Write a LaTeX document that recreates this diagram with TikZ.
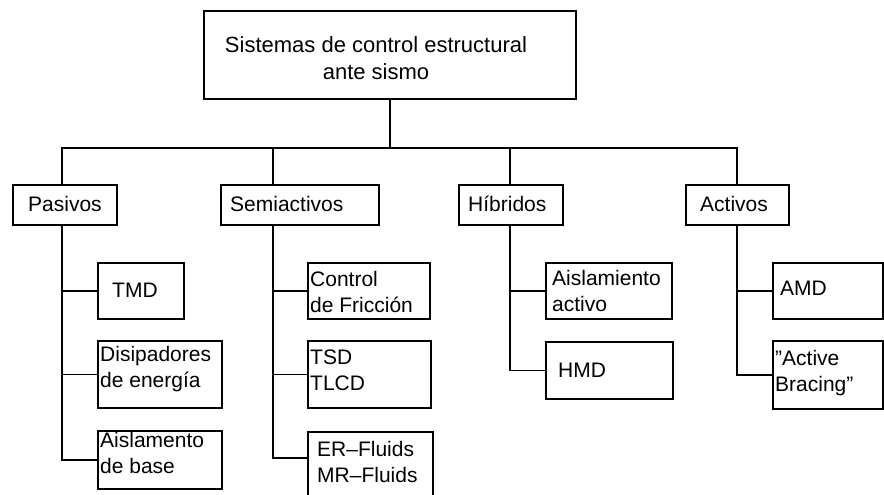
\documentclass[tikz,border=0pt]{standalone}
\usepackage{fontspec}
\setmainfont{Liberation Sans}
\usetikzlibrary{calc}
\tikzset{
  box/.style={draw, line width=1.6pt, inner sep=0pt, anchor=north west},
  lbl/.style={anchor=west, align=left, inner sep=0pt, font=\fontsize{21}{26}\selectfont},
  conn/.style={line width=1.6pt}
}
\begin{document}
\begin{tikzpicture}[x=1pt,y=-1pt]
\clip (0,0) rectangle (884,495);
% top
\node[box, minimum width=372pt, minimum height=88pt] (top) at (203,10) {};
\node[anchor=center, align=center, inner sep=0pt, font=\fontsize{22}{27}\selectfont] (toptxt) at (376,58) {Sistemas de control estructural\\ante sismo};
% level 1
\node[box, minimum width=104pt, minimum height=40pt] (pas) at (12,184) {};
\node[lbl] at (28,204) {Pasivos};
\node[box, minimum width=158pt, minimum height=40pt] (semi) at (220,184) {};
\node[lbl] at (230,204) {Semiactivos};
\node[box, minimum width=104pt, minimum height=40pt] (hib) at (458,184) {};
\node[lbl] at (468,204) {Híbridos};
\node[box, minimum width=103pt, minimum height=40pt] (act) at (685,184) {};
\node[lbl] at (700,204) {Activos};
% level 2 pasivos
\node[box, minimum width=86pt, minimum height=56pt] (tmd) at (97,262) {};
\node[lbl] at (112,290) {TMD};
\node[box, minimum width=124pt, minimum height=67pt] (dis) at (97,340) {};
\node[lbl] at (100,369) {Disipadores\\de energía};
\node[box, minimum width=124pt, minimum height=58pt] (ais) at (97,430) {};
\node[lbl] at (100,453) {Aislamento\\de base};
% semiactivos
\node[box, minimum width=122pt, minimum height=56pt] (cf) at (307,262) {};
\node[lbl] at (310,292) {Control\\de Fricción};
\node[box, minimum width=123pt, minimum height=67pt] (tsd) at (307,340) {};
\node[lbl] at (310,370) {TSD\\TLCD};
\node[box, minimum width=125pt, minimum height=90pt] (er) at (307,431) {};
\node[lbl] at (317,462) {ER--Fluids\\MR--Fluids};
% hibridos
\node[box, minimum width=126pt, minimum height=56pt] (aa) at (545,262) {};
\node[lbl] at (552,291) {Aislamiento\\activo};
\node[box, minimum width=127pt, minimum height=57pt] (hmd) at (545,341) {};
\node[lbl] at (558,370) {HMD};
% activos
\node[box, minimum width=110pt, minimum height=56pt] (amd) at (772,262) {};
\node[lbl] at (780,288) {AMD};
\node[box, minimum width=110pt, minimum height=68pt] (ab) at (772,340) {};
\node[lbl] at (775,373) {"Active\\Bracing"};
% connectors
\coordinate (bus) at (0,148);
\coordinate (c1) at (62,0);
\coordinate (c2) at (273,0);
\coordinate (c3) at (510,0);
\coordinate (c4) at (737,0);
\draw[conn] (top.south) -- (top.south |- bus);
\draw[conn] (c1 |- pas.north) -- (c1 |- bus) -- (c4 |- bus) -- (c4 |- act.north);
\draw[conn] (c2 |- bus) -- (c2 |- semi.north);
\draw[conn] (c3 |- bus) -- (c3 |- hib.north);
% pasivos children
\draw[conn] (c1 |- pas.south) |- (ais.west);
\draw[conn] (c1 |- tmd.west) -- (tmd.west);
\draw[conn] (c1 |- dis.west) -- (dis.west);
% semiactivos children
\coordinate (erj) at (0,458);
\draw[conn] (c2 |- semi.south) -- (c2 |- erj) -- (erj -| er.west);
\draw[conn] (c2 |- cf.west) -- (cf.west);
\draw[conn] (c2 |- tsd.west) -- (tsd.west);
% hibridos children
\draw[conn] (c3 |- hib.south) |- (hmd.west);
\draw[conn] (c3 |- aa.west) -- (aa.west);
% activos children
\draw[conn] (c4 |- act.south) |- (ab.west);
\draw[conn] (c4 |- amd.west) -- (amd.west);
\end{tikzpicture}
\end{document}
